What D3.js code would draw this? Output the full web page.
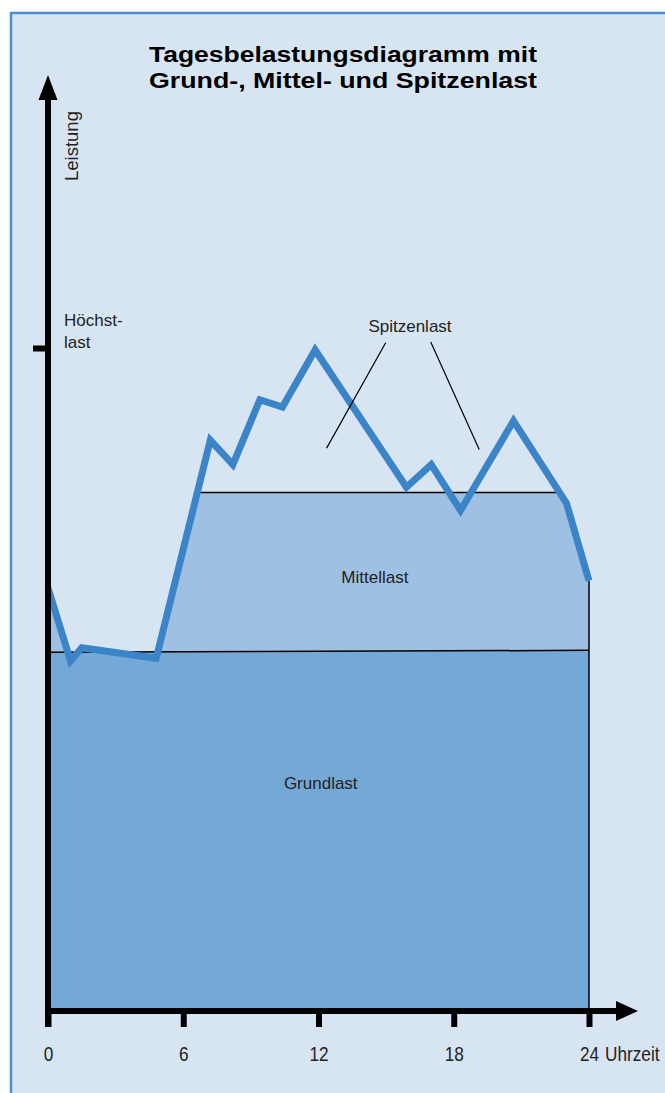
<!DOCTYPE html>
<html>
<head>
<meta charset="utf-8">
<script src="https://cdn.jsdelivr.net/npm/d3@7"></script>
<style>
  html, body { margin: 0; padding: 0; background: #ffffff; }
  svg { display: block; }
</style>
</head>
<body>
<svg id="chart" width="665" height="1093"></svg>
<script>
// ---------- data ----------
const titleLines = ["Tagesbelastungsdiagramm mit", "Grund-, Mittel- und Spitzenlast"];
// daily load curve: hour of day and power (Höchstlast = 100)
const hours = [0, 1.0, 1.5, 4.8, 7.2, 8.2, 9.4, 10.4, 11.85, 15.9, 17.0, 18.3, 20.65, 23.0, 24];
const load  = [63.8, 52.8, 54.8, 53.2, 86.1, 82.4, 92.2, 91.1, 99.7, 79.0, 82.4, 75.5, 89.0, 76.6, 64.9];
// base load level at 0 h and 24 h, intermediate load level
const grundHours = [0, 24];
const grundLevel = [54.1, 54.4];
const mittelLevel = 78.2;
const hoechstLast = 100;
const xTicks = [0, 6, 12, 18, 24];
const xTickLabels = ["0", "6", "12", "18", "24"];
const xAxisTitle = "Uhrzeit";
const yAxisTitle = "Leistung";
const hoechstLabel = ["Höchst-", "last"];
const areaLabels = ["Spitzenlast", "Mittellast", "Grundlast"];
const areaLabelPos = [[16.06, 102.4], [14.5, 64.6], [12.1, 33.5]]; // [hour, power]
// leader lines for "Spitzenlast": [[h1,p1],[h2,p2]]
const leaders = [[[14.98, 100.8], [12.36, 84.9]], [[16.98, 100.9], [19.13, 84.7]]];

// ---------- setup ----------
const svg = d3.select("#chart");
const x = d3.scaleLinear().domain([0, 24]).range([48, 589]);
const y = d3.scaleLinear().domain([0, 100]).range([1011, 348]);

const C = {
  bg: "#d7e5f3", frame: "#4a8fd0", grund: "#74a8d7", mittel: "#9ec1e3",
  curve: "#3b84c8", ink: "#000000", text: "#222222"
};
const FONT = "'Liberation Sans', Arial, sans-serif";

// frame
svg.append("rect").attr("x", 11).attr("y", 13).attr("width", 700).attr("height", 1100)
  .attr("fill", C.bg).attr("stroke", C.frame).attr("stroke-width", 2.5);

// title
const title = svg.append("g");
titleLines.forEach((t, i) => {
  title.append("text")
    .attr("x", 343).attr("y", 61.5 + i * 26)
    .attr("text-anchor", "middle")
    .attr("font-family", FONT)
    .attr("font-weight", "bold").attr("font-size", 22.5)
    .attr("textLength", 388).attr("lengthAdjust", "spacingAndGlyphs")
    .attr("fill", "#000").text(t);
});

const pts = hours.map((h, i) => [h, load[i]]);
const gpts = grundHours.map((h, i) => [h, grundLevel[i]]);

// crossing points of load curve with intermediate level
function crossings(level) {
  let first = null, last = null;
  for (let i = 0; i < pts.length - 1; i++) {
    const [h0, v0] = pts[i], [h1, v1] = pts[i + 1];
    if ((v0 - level) * (v1 - level) < 0) {
      const hc = h0 + (level - v0) / (v1 - v0) * (h1 - h0);
      if (first === null) first = hc;
      last = hc;
    }
  }
  return [first, last];
}
const [crossL, crossR] = crossings(mittelLevel);

// Grundlast fill
svg.append("path")
  .datum(gpts)
  .attr("d", d3.area().x(d => x(d[0])).y0(y(0)).y1(d => y(d[1])))
  .attr("fill", C.grund);

// clip: under the curve, plus the band between crossings
const defs = svg.append("defs");
const clip = defs.append("clipPath").attr("id", "mclip");
clip.append("path").datum(pts)
  .attr("d", d3.area().x(d => x(d[0])).y0(y(0)).y1(d => y(d[1])));
clip.append("rect")
  .attr("x", x(crossL)).attr("y", 0)
  .attr("width", x(crossR) - x(crossL)).attr("height", 1093);

// Mittellast fill
svg.append("path")
  .datum(gpts)
  .attr("d", d3.area().x(d => x(d[0])).y0(d => y(d[1])).y1(y(mittelLevel)))
  .attr("fill", C.mittel)
  .attr("clip-path", "url(#mclip)");

// boundary lines
svg.append("path").datum(gpts)
  .attr("d", d3.line().x(d => x(d[0])).y(d => y(d[1])))
  .attr("stroke", C.ink).attr("stroke-width", 1.5).attr("fill", "none");
svg.append("line")
  .attr("x1", x(crossL)).attr("x2", x(crossR))
  .attr("y1", y(mittelLevel)).attr("y2", y(mittelLevel))
  .attr("stroke", C.ink).attr("stroke-width", 1.5);
svg.append("line")
  .attr("x1", x(24)).attr("x2", x(24))
  .attr("y1", y(load[load.length - 1])).attr("y2", y(0))
  .attr("stroke", C.ink).attr("stroke-width", 1.5);

// load curve
svg.append("path").datum(pts)
  .attr("d", d3.line().x(d => x(d[0])).y(d => y(d[1])))
  .attr("fill", "none").attr("stroke", C.curve).attr("stroke-width", 7)
  .attr("stroke-linejoin", "miter").attr("stroke-miterlimit", 10);

// leader lines
svg.selectAll(".leader").data(leaders).enter().append("line")
  .attr("x1", d => x(d[0][0])).attr("y1", d => y(d[0][1]))
  .attr("x2", d => x(d[1][0])).attr("y2", d => y(d[1][1]))
  .attr("stroke", C.ink).attr("stroke-width", 1.2);

// area labels
svg.selectAll(".alabel").data(areaLabels).enter().append("text")
  .attr("x", (d, i) => x(areaLabelPos[i][0]))
  .attr("y", (d, i) => y(areaLabelPos[i][1]))
  .attr("text-anchor", "middle")
  .attr("font-family", FONT)
  .attr("font-size", 17).attr("fill", C.text).text(d => d);

// ---------- axes ----------
const y0px = y(0);
// x axis
const xAxis = svg.append("g").attr("transform", `translate(0,${y0px})`)
  .call(d3.axisBottom(x).tickValues(xTicks).tickSize(16).tickPadding(19)
    .tickFormat((d, i) => xTickLabels[i]));
xAxis.select(".domain").remove();
xAxis.selectAll(".tick line").attr("stroke", C.ink).attr("stroke-width", 6);
xAxis.selectAll(".tick text")
  .attr("font-family", FONT)
  .attr("font-size", 21).attr("fill", C.text)
  .attr("transform", "scale(0.82,1)");
svg.append("line").attr("x1", 45).attr("x2", 616).attr("y1", y0px).attr("y2", y0px)
  .attr("stroke", C.ink).attr("stroke-width", 6);
svg.append("path")
  .attr("d", `M616,${y0px - 10}L638,${y0px}L616,${y0px + 10}Z`).attr("fill", C.ink);
svg.append("text")
  .attr("transform", `translate(605,${y0px + 50}) scale(0.82,1)`)
  .attr("font-family", FONT)
  .attr("font-size", 21).attr("fill", C.text).text(xAxisTitle);

// y axis
const yAxis = svg.append("g").attr("transform", `translate(${x(0)},0)`)
  .call(d3.axisLeft(y).tickValues([hoechstLast]).tickSize(15).tickFormat(""));
yAxis.select(".domain").remove();
yAxis.selectAll(".tick line").attr("stroke", C.ink).attr("stroke-width", 6);
svg.append("line").attr("x1", x(0)).attr("x2", x(0)).attr("y1", 99).attr("y2", y0px + 16)
  .attr("stroke", C.ink).attr("stroke-width", 6);
svg.append("path")
  .attr("d", `M${x(0) - 9.5},100L${x(0)},75L${x(0) + 9.5},100Z`).attr("fill", C.ink);

svg.append("text")
  .attr("transform", `translate(78,181) rotate(-90)`)
  .attr("font-family", FONT)
  .attr("font-size", 18.5).attr("fill", C.text).text(yAxisTitle);

hoechstLabel.forEach((t, i) => {
  svg.append("text").attr("x", 64).attr("y", y(hoechstLast) - 22 + i * 22)
    .attr("font-family", FONT)
    .attr("font-size", 17).attr("fill", C.text).text(t);
});
</script>
</body>
</html>
